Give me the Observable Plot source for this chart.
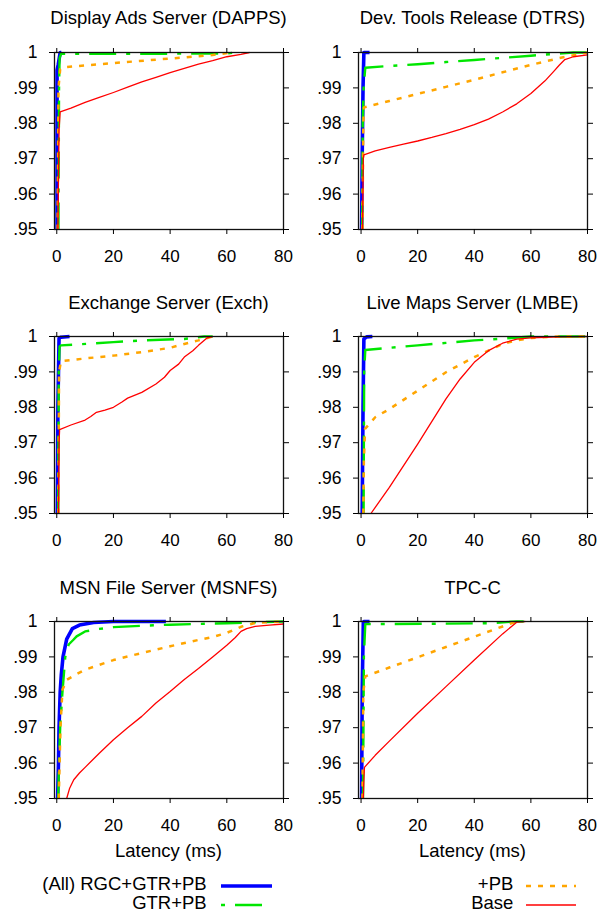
<!DOCTYPE html>
<html><head><meta charset="utf-8">
<script src="https://cdn.jsdelivr.net/npm/d3@7"></script>
<script src="https://cdn.jsdelivr.net/npm/@observablehq/plot@0.6"></script>
<style>
body{margin:0;background:#fff;}
#chart{position:relative;width:605px;height:916px;font-family:"Liberation Sans",Arial,Helvetica,sans-serif;color:#000;overflow:hidden;}
.t{position:absolute;font-size:18.5px;line-height:18.5px;white-space:nowrap;transform:translateX(-50%);}
.lt{position:absolute;font-size:18.5px;line-height:18.5px;white-space:nowrap;text-align:right;}
.p{position:absolute;}
.ls{position:absolute;}
</style></head><body><div id="chart"></div>
<script>
// ---- labels ----
const panelTitles = ["Display Ads Server (DAPPS)", "Dev. Tools Release (DTRS)", "Exchange Server (Exch)", "Live Maps Server (LMBE)", "MSN File Server (MSNFS)", "TPC-C"];
const seriesNames = ["(All) RGC+GTR+PB", "GTR+PB", "+PB", "Base"];
const xTicks = [0, 20, 40, 60, 80];
const yTicks = [0.95, 0.96, 0.97, 0.98, 0.99, 1];
const yTickLabels = [".95", ".96", ".97", ".98", ".99", "1"];
const xLabel = "Latency (ms)";

// ---- data: [latency ms, cumulative fraction] ----
const DAPPS_all  = [[0.1,0.95],[0.1,0.995],[0.5,0.9965],[1.2,1],[1.6,1]];
const DAPPS_gtr  = [[0.6,0.95],[0.8,0.99],[1,0.9985],[1.5,0.9996],[60,0.9997],[63,1]];
const DAPPS_pb   = [[0.3,0.95],[0.6,0.99],[1.2,0.9953],[2,0.9958],[20,0.997],[40,0.9983],[55,0.9993],[62,1]];
const DAPPS_base = [[0.4,0.95],[0.8,0.978],[1.2,0.9832],[5,0.9843],[10,0.9859],[15,0.9873],[20,0.9887],[25,0.9902],[30,0.9917],[35,0.993],[40,0.9943],[45,0.9955],[50,0.9967],[55,0.9977],[60,0.9988],[65,0.9995],[68,1]];

const DTRS_all  = [[0.2,0.95],[0.4,0.97],[0.7,0.99],[1,1],[3,1]];
const DTRS_gtr  = [[0.4,0.95],[0.6,0.98],[0.9,0.99],[1.5,0.9957],[10,0.9962],[20,0.9967],[30,0.9973],[40,0.9979],[50,0.9985],[60,0.9991],[70,0.9997],[75,1],[80,1]];
const DTRS_pb   = [[0.5,0.95],[0.8,0.98],[1,0.9845],[10,0.9863],[20,0.9883],[30,0.9903],[40,0.9923],[50,0.9944],[60,0.9965],[70,0.9984],[80,1]];
const DTRS_base = [[0.5,0.95],[0.8,0.97],[1,0.9711],[5,0.9722],[10,0.9732],[15,0.9741],[20,0.975],[25,0.976],[30,0.9771],[35,0.9783],[40,0.9796],[45,0.9812],[50,0.9832],[55,0.9855],[60,0.9884],[65,0.992],[68,0.9946],[70,0.9964],[72,0.998],[75,0.9988],[80,0.9993]];

const EXCH_all  = [[0.2,0.95],[0.4,0.98],[0.8,0.9995],[1.5,0.9998],[4.5,1]];
const EXCH_gtr  = [[0.5,0.95],[0.7,0.99],[1,0.9972],[1.5,0.9975],[8,0.9978],[20,0.9984],[30,0.9989],[45,0.9993],[52,1],[55,1]];
const EXCH_pb   = [[0.6,0.95],[0.8,0.99],[1.5,0.993],[10,0.9938],[20,0.9946],[30,0.9956],[40,0.9968],[45,0.9979],[50,0.9989],[55,1]];
const EXCH_base = [[0.6,0.95],[0.8,0.97],[1,0.9737],[5,0.975],[10,0.9764],[12,0.9774],[14,0.9786],[17,0.9792],[20,0.98],[23,0.9815],[25,0.9826],[30,0.9842],[35,0.9866],[38,0.9885],[40,0.9904],[43,0.9922],[45,0.9942],[48,0.996],[50,0.9975],[53,0.9996],[55,1]];

const LMBE_all  = [[0.4,0.95],[0.7,0.98],[1,0.9993],[2,0.9999],[4,1]];
const LMBE_gtr  = [[0.9,0.95],[1.1,0.99],[1.5,0.9962],[10,0.9968],[20,0.9975],[30,0.9982],[40,0.9989],[50,0.9994],[60,1],[80,1]];
const LMBE_pb   = [[0.8,0.95],[1,0.965],[1.4,0.9739],[5,0.9772],[10,0.9795],[20,0.9847],[30,0.9899],[40,0.9942],[45,0.996],[50,0.9979],[55,0.9989],[60,0.9996],[70,1],[80,1]];
const LMBE_base = [[3.5,0.95],[10,0.9574],[20,0.9696],[30,0.9824],[35,0.988],[40,0.9927],[45,0.996],[50,0.9981],[55,0.99925],[60,0.9996],[70,0.9999],[80,1]];

const MSNFS_all  = [[0.3,0.95],[0.6,0.96],[0.8,0.97],[1.2,0.98],[1.6,0.985],[2.2,0.99],[3.5,0.995],[5.5,0.998],[8,0.999],[13,0.9997],[20,1],[38.5,1]];
const MSNFS_gtr  = [[0.5,0.95],[0.8,0.96],[1.2,0.97],[2,0.98],[3,0.99],[4.2,0.9935],[5.7,0.9947],[7,0.9958],[10,0.9972],[15,0.9979],[20,0.9984],[30,0.9988],[40,0.9991],[50,0.9993],[60,0.9995],[70,0.9998],[80,1]];
const MSNFS_pb   = [[0.7,0.95],[1,0.96],[1.3,0.97],[2,0.9807],[3.5,0.9835],[6.5,0.9849],[10,0.9864],[20,0.9891],[30,0.9911],[40,0.993],[50,0.9948],[55,0.9956],[60,0.9968],[65,0.9985],[70,0.9996],[80,1]];
const MSNFS_base = [[3.5,0.95],[4.5,0.9528],[6,0.9553],[8,0.9572],[10,0.9588],[15,0.9628],[20,0.9666],[25,0.97],[30,0.9732],[35,0.977],[40,0.9802],[45,0.9836],[50,0.9867],[55,0.99],[60,0.9933],[63,0.9955],[65,0.9972],[67,0.998],[70,0.9986],[75,0.999],[80,0.9993]];

const TPCC_all  = [[0.2,0.95],[0.4,0.98],[0.8,0.9998],[1,1],[3,1]];
const TPCC_gtr  = [[0.7,0.95],[1,0.99],[1.5,0.9993],[10,0.9993],[30,0.9994],[45,0.9995],[55,1],[58,1]];
const TPCC_pb   = [[0.5,0.95],[0.8,0.98],[1.5,0.9845],[10,0.987],[20,0.9899],[30,0.9928],[40,0.9957],[50,0.9986],[55,1]];
const TPCC_base = [[0.8,0.95],[1,0.955],[1.2,0.9588],[5,0.9622],[10,0.9662],[20,0.9741],[30,0.9816],[40,0.9891],[50,0.9965],[55,0.9998],[58,1]];

const panelData = [
  [DAPPS_all, DAPPS_gtr, DAPPS_pb, DAPPS_base],
  [DTRS_all, DTRS_gtr, DTRS_pb, DTRS_base],
  [EXCH_all, EXCH_gtr, EXCH_pb, EXCH_base],
  [LMBE_all, LMBE_gtr, LMBE_pb, LMBE_base],
  [MSNFS_all, MSNFS_gtr, MSNFS_pb, MSNFS_base],
  [TPCC_all, TPCC_gtr, TPCC_pb, TPCC_base]
];

// ---- styles ----
const colors = ["#0000ff", "#00e600", "#ffa500", "#ff0000"];
const widths = [3.6, 2.4, 2.5, 1.3];
const dashes = [null, "27,10,4,10", "5,7", null];
const FONT = '"Liberation Sans", Arial, Helvetica, sans-serif';

const chart = document.getElementById("chart");

function addText(cls, txt, style) {
  const d = document.createElement("div");
  d.className = cls;
  d.textContent = txt;
  Object.assign(d.style, style);
  chart.appendChild(d);
}

const rowTop = [42, 326, 611];
const titleTop = [9.3, 294.3, 579.3];

panelTitles.forEach((title, p) => {
  const col = p % 2, row = Math.floor(p / 2);
  const left = col === 0 ? 0 : 300;
  const width = col === 0 ? 300 : 305;
  const mL = col === 0 ? 54 : 58;
  const mR = col === 0 ? 17 : 18;
  const xDomain = col === 0 ? [-0.8, 80] : [-0.9, 80];
  const data = panelData[p];
  const lines = data.map((s, i) => Plot.line(s, {
    x: d => d[0], y: d => d[1], stroke: colors[i], strokeWidth: widths[i],
    strokeDasharray: dashes[i] || undefined, strokeLinejoin: "round", strokeLinecap: "butt"
  }));
  const svg = Plot.plot({
    width, height: 227,
    marginLeft: mL, marginRight: mR, marginTop: 10, marginBottom: 40,
    x: {domain: xDomain},
    y: {domain: [0.95, 1]},
    style: {fontFamily: FONT, fontSize: "17px", color: "#000", background: "transparent", overflow: "visible"},
    marks: [
      ...lines,
      Plot.frame({stroke: "#111", strokeWidth: 1.3}),
      Plot.axisX({anchor: "bottom", ticks: xTicks, tickSize: 5, tickPadding: 15, label: null, fontSize: 17}),
      Plot.axisX({anchor: "top", ticks: xTicks, tickSize: 5, tickFormat: () => "", label: null}),
      Plot.axisY({anchor: "left", ticks: yTicks, tickSize: 5, tickPadding: 12, label: null, fontSize: 17.5,
        tickFormat: d => yTickLabels[yTicks.indexOf(d)]}),
      Plot.axisY({anchor: "right", ticks: yTicks, tickSize: 5, tickFormat: () => "", label: null})
    ]
  });
  svg.classList.add("p");
  svg.style.left = left + "px";
  svg.style.top = rowTop[row] + "px";
  chart.appendChild(svg);
  const cx = left + mL + (width - mL - mR) / 2;
  addText("t", title, {left: cx + "px", top: titleTop[row] + "px"});
  if (row === 2) addText("t", xLabel, {left: cx + "px", top: "842.3px"});
});

// ---- legend ----
const legendPos = [
  {right: 398.3, top: 875.3, lx: 221, ly: 886, lw: 51},
  {right: 398.3, top: 894.3, lx: 221, ly: 905, lw: 51},
  {right: 91.7, top: 875.3, lx: 526, ly: 886, lw: 50},
  {right: 91.7, top: 894.3, lx: 526, ly: 905, lw: 50}
];
seriesNames.forEach((name, i) => {
  const L = legendPos[i];
  addText("lt", name, {right: L.right + "px", top: L.top + "px"});
  const ns = "http://www.w3.org/2000/svg";
  const s = document.createElementNS(ns, "svg");
  s.setAttribute("width", L.lw); s.setAttribute("height", 8);
  s.setAttribute("class", "ls");
  s.style.left = L.lx + "px"; s.style.top = (L.ly - 4) + "px";
  const ln = document.createElementNS(ns, "line");
  ln.setAttribute("x1", 0); ln.setAttribute("x2", L.lw);
  ln.setAttribute("y1", 4); ln.setAttribute("y2", 4);
  ln.setAttribute("stroke", colors[i]); ln.setAttribute("stroke-width", widths[i]);
  if (dashes[i]) ln.setAttribute("stroke-dasharray", dashes[i]);
  if (i === 1) ln.setAttribute("stroke-dashoffset", 37);
  s.appendChild(ln);
  chart.appendChild(s);
});
</script></body></html>
